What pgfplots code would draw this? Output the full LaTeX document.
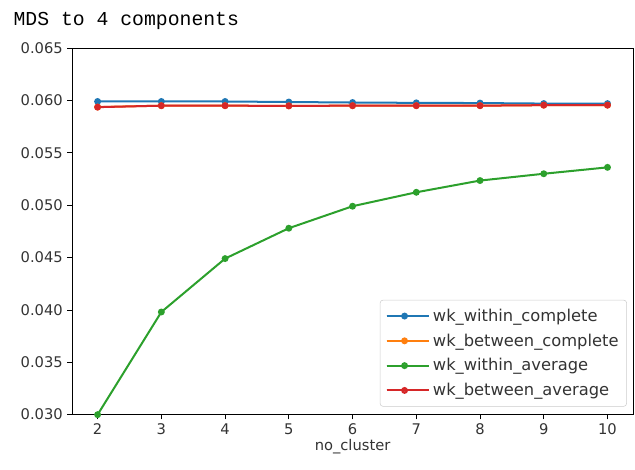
\documentclass[border=0pt]{standalone}
\usepackage{pgfplots}
\pgfplotsset{compat=1.18}
\usepackage{fontspec}
\setmainfont{DejaVu Sans}
\newfontfamily\monofont{Liberation Mono}
\definecolor{c0}{HTML}{1F77B4}
\definecolor{c1}{HTML}{FF7F0E}
\definecolor{c2}{HTML}{2CA02C}
\definecolor{c3}{HTML}{D62728}
\begin{document}
\begin{tikzpicture}
\begin{axis}[
  name=ax,
  scale only axis,
  width=420pt, height=274.5pt,
  xmin=1.6, xmax=10.4,
  ymin=0.030, ymax=0.065,
  xtick={2,3,4,5,6,7,8,9,10},
  ytick={0.030,0.035,0.040,0.045,0.050,0.055,0.060,0.065},
  yticklabel style={/pgf/number format/.cd, fixed, fixed zerofill, precision=3},
  scaled y ticks=false,
  /pgf/number format/assume math mode=true,
  tick align=outside,
  tick pos=left,
  major tick length=3.5pt,
  tick style={black, line width=0.6pt},
  axis line style={black, line width=0.6pt},
  ticklabel style={font=\fontsize{11}{13}\selectfont, text=black!80},
  xlabel={no\_cluster},
  xlabel style={font=\fontsize{11}{13}\selectfont, text=black!80, yshift=4pt},
  legend style={font=\fontsize{12.2}{14}\selectfont, text=black!80, draw=black!20, rounded corners=2pt, fill=white, fill opacity=0.8, text opacity=1, row sep=3.8pt, at={(0.989,0.022)}, anchor=south east, inner xsep=4pt, inner ysep=4.5pt},
  legend cell align=left,
  legend image code/.code={\path (0pt,0pt) -- (32pt,0pt); \draw[#1, mark=none] (0pt,0pt) -- (27pt,0pt); \path[#1] plot coordinates {(13.5pt,0pt)};},
  every axis plot/.append style={line width=1.5pt, mark=*, mark size=1.8pt},
  clip=true,
]
\addplot[c0, mark options={fill=c0, draw=c0}] coordinates {(2,0.0599) (3,0.0599) (4,0.0599) (5,0.05985) (6,0.0598) (7,0.05977) (8,0.05975) (9,0.0597) (10,0.0597)};
\addlegendentry{wk\_within\_complete}
\addplot[c1, mark options={fill=c1, draw=c1}] coordinates {(2,0.05937) (3,0.0595) (4,0.0595) (5,0.05948) (6,0.0595) (7,0.0595) (8,0.0595) (9,0.05955) (10,0.05955)};
\addlegendentry{wk\_between\_complete}
\addplot[c2, mark options={fill=c2, draw=c2}] coordinates {(2,0.0300) (3,0.0398) (4,0.0449) (5,0.0478) (6,0.0499) (7,0.05123) (8,0.05235) (9,0.0530) (10,0.05361)};
\addlegendentry{wk\_within\_average}
\addplot[c3, mark options={fill=c3, draw=c3}] coordinates {(2,0.05936) (3,0.0595) (4,0.0595) (5,0.05948) (6,0.0595) (7,0.0595) (8,0.0595) (9,0.05955) (10,0.05955)};
\addlegendentry{wk\_between\_average}
\end{axis}
\node[anchor=base west, font=\monofont\fontsize{14.8}{16}\selectfont, inner sep=0pt] at ([xshift=-44pt, yshift=17pt]ax.north west) {MDS to 4 components};
\pgfresetboundingbox
\useasboundingbox ([xshift=-54pt, yshift=36pt]ax.north west) rectangle ([xshift=1.5pt, yshift=-41pt]ax.south east);
\end{tikzpicture}
\end{document}
